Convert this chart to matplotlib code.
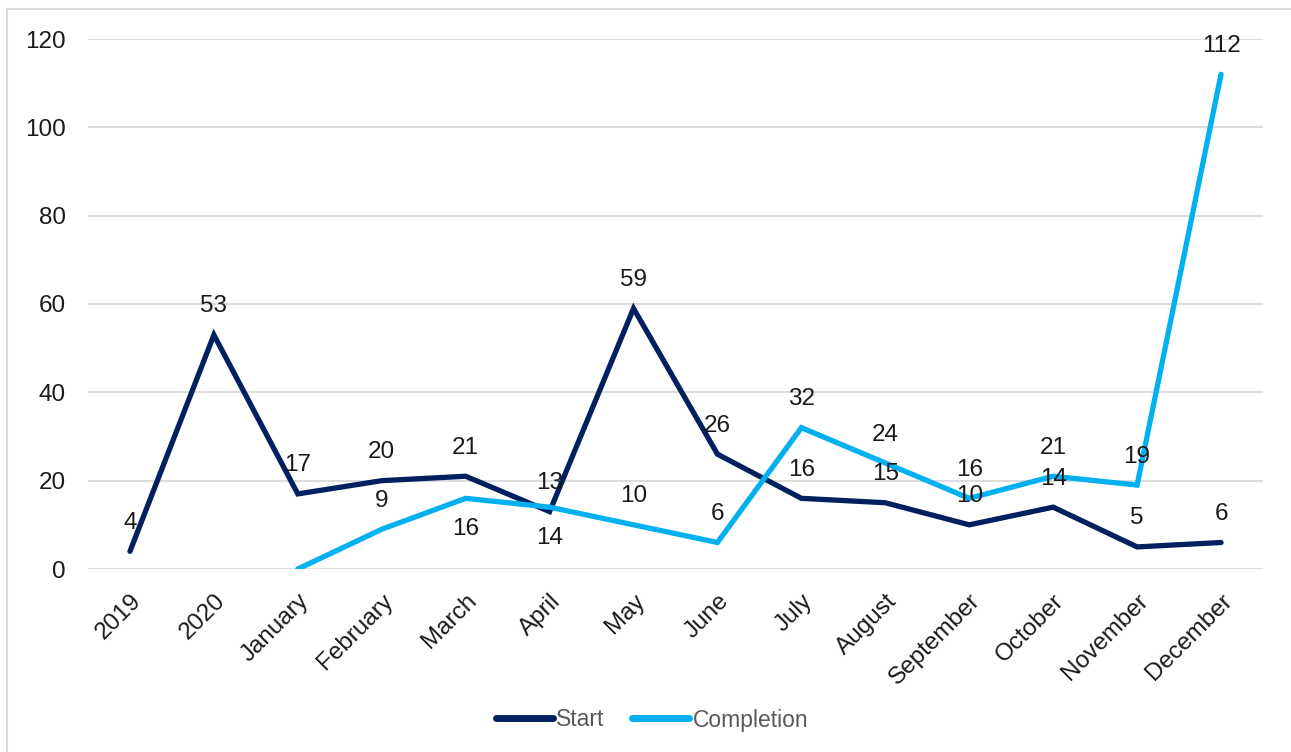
import numpy as np
import matplotlib.pyplot as plt
from matplotlib.patches import Rectangle

categories = ['2019', '2020', 'January', 'February', 'March', 'April', 'May',
              'June', 'July', 'August', 'September', 'October', 'November', 'December']
start = [4, 53, 17, 20, 21, 13, 59, 26, 16, 15, 10, 14, 5, 6]
# completion has no value before January
completion = [np.nan, np.nan, 0, 9, 16, 14, 10, 6, 32, 24, 16, 21, 19, 112]
# where the completion labels sit (None = no label)
completion_pos = [None, None, None, 'above', 'below', 'below', 'above', 'above',
                  'above', 'above', 'above', 'above', 'above', 'above']

plt.rcParams['font.family'] = ['Liberation Sans', 'DejaVu Sans']

navy = '#002060'
sky = '#00B0F0'
fs = 17.5

fig = plt.figure(figsize=(12.91, 7.52), dpi=100)
ax = fig.add_axes([88/1291, 1 - 569/752, (1263 - 88)/1291, (569 - 39)/752])

x = np.arange(len(categories))
ax.plot(x, start, color=navy, lw=3.8, solid_joinstyle='miter', solid_capstyle='round', label='Start', zorder=3)
ax.plot(x, completion, color=sky, lw=3.8, solid_joinstyle='miter', solid_capstyle='round', label='Completion', zorder=3)

for i, v in enumerate(start):
    ax.annotate(str(v), (x[i], v), xytext=(0, 20.5), textcoords='offset points',
                ha='center', va='center', fontsize=fs, color='#1a1a1a', zorder=4)
for i, v in enumerate(completion):
    if completion_pos[i] is None:
        continue
    dy = 20.5 if completion_pos[i] == 'above' else -22
    ax.annotate(str(int(v)), (x[i], v), xytext=(0, dy), textcoords='offset points',
                ha='center', va='center', fontsize=fs, color='#1a1a1a', zorder=4)

ax.set_xlim(-0.5, len(categories) - 0.5)
ax.set_ylim(0, 120)
ax.set_yticks(range(0, 121, 20))
ax.grid(axis='y', color='#d9d9d9', lw=1.3)
ax.set_axisbelow(True)
for s in ax.spines.values():
    s.set_visible(False)
ax.tick_params(axis='both', length=0, labelsize=fs, labelcolor='#1a1a1a')
ax.tick_params(axis='y', pad=16)
ax.set_xticks(x)
ax.set_xticklabels(categories, rotation=45, ha='right', va='top', rotation_mode='anchor')
ax.tick_params(axis='x', pad=15)

leg = fig.legend(loc='center', bbox_to_anchor=(652/1291, 1 - 720/752), ncol=2, frameon=False,
                 fontsize=16.5, handlelength=2.5, handletextpad=0.15, columnspacing=1.2)
for t in leg.get_texts():
    t.set_color('#595959')
for h in leg.get_lines():
    h.set_linewidth(5)
    h.set_solid_capstyle('round')

fig.patches.append(Rectangle((7/1291, -0.1), 1.2, 1 - 9/752 + 0.1, transform=fig.transFigure,
                             fill=False, edgecolor='#d9d9d9', lw=1.5))

fig.savefig('out.png', dpi=100)
